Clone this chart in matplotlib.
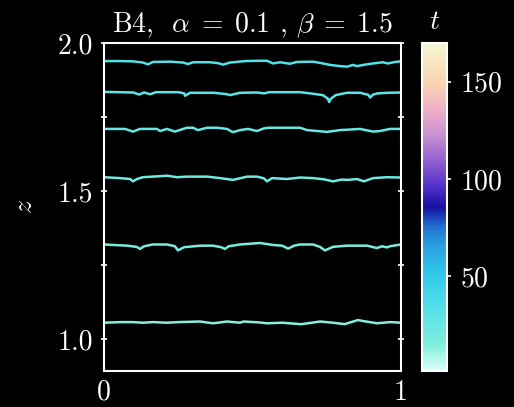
import numpy as np
import matplotlib
matplotlib.use("Agg")
import matplotlib.pyplot as plt
from matplotlib.colors import LinearSegmentedColormap, Normalize
from matplotlib.cm import ScalarMappable

plt.rcParams['font.family'] = 'serif'
plt.rcParams['font.serif'] = ['cmr10', 'DejaVu Serif']
plt.rcParams['mathtext.fontset'] = 'cm'
plt.rcParams['axes.formatter.use_mathtext'] = True
plt.rcParams['axes.unicode_minus'] = False

# ---- data ----
times = [34, 30, 26, 22, 18, 14]

x1 = [0, 0.054, 0.098, 0.131, 0.148, 0.165, 0.222, 0.266, 0.283, 0.300, 0.357, 0.384, 0.401, 0.424, 0.475,
      0.515, 0.549, 0.569, 0.593, 0.626, 0.650, 0.704, 0.737, 0.761, 0.795, 0.818, 0.838, 0.852, 0.879, 0.906,
      0.939, 0.956, 0.980, 1.0]
z1 = [1.939, 1.939, 1.938, 1.934, 1.928, 1.936, 1.937, 1.934, 1.929, 1.935, 1.935, 1.932, 1.927, 1.934, 1.939,
      1.940, 1.940, 1.931, 1.935, 1.930, 1.936, 1.937, 1.931, 1.926, 1.922, 1.920, 1.926, 1.922, 1.927, 1.931,
      1.935, 1.931, 1.936, 1.938]

x2 = [0, 0.098, 0.118, 0.135, 0.155, 0.175, 0.25, 0.27, 0.273, 0.29, 0.37, 0.415, 0.424, 0.458, 0.515, 0.539,
      0.556, 0.66, 0.694, 0.737, 0.754, 0.758, 0.764, 0.78, 0.818, 0.862, 0.89, 0.896, 0.906, 0.922, 0.956, 1.0]
z2 = [1.835, 1.833, 1.826, 1.833, 1.827, 1.834, 1.834, 1.830, 1.822, 1.832, 1.832, 1.827, 1.824, 1.832, 1.833,
      1.830, 1.834, 1.834, 1.830, 1.824, 1.812, 1.801, 1.812, 1.824, 1.832, 1.832, 1.825, 1.816, 1.826, 1.830,
      1.832, 1.833]

x3 = [0, 0.071, 0.098, 0.121, 0.178, 0.189, 0.212, 0.239, 0.279, 0.3, 0.316, 0.347, 0.381, 0.414, 0.434, 0.458,
      0.485, 0.515, 0.539, 0.556, 0.66, 0.684, 0.717, 0.75, 0.795, 0.862, 0.906, 0.93, 0.963, 1.0]
z3 = [1.710, 1.710, 1.701, 1.710, 1.710, 1.703, 1.710, 1.701, 1.714, 1.714, 1.706, 1.714, 1.714, 1.710, 1.699,
      1.706, 1.710, 1.703, 1.712, 1.714, 1.714, 1.706, 1.703, 1.700, 1.706, 1.710, 1.701, 1.703, 1.710, 1.710]

x4 = [0, 0.054, 0.088, 0.098, 0.111, 0.131, 0.212, 0.246, 0.279, 0.347, 0.391, 0.434, 0.482, 0.515, 0.539,
      0.549, 0.566, 0.616, 0.66, 0.704, 0.74, 0.771, 0.8, 0.822, 0.852, 0.875, 0.906, 0.953, 1.0]
z4 = [1.547, 1.544, 1.541, 1.533, 1.541, 1.547, 1.552, 1.547, 1.549, 1.549, 1.544, 1.538, 1.549, 1.549, 1.543,
      1.533, 1.544, 1.541, 1.546, 1.544, 1.540, 1.533, 1.539, 1.538, 1.541, 1.533, 1.544, 1.547, 1.546]

x5 = [0, 0.078, 0.11, 0.121, 0.135, 0.165, 0.212, 0.239, 0.249, 0.27, 0.283, 0.323, 0.367, 0.394, 0.407, 0.42,
      0.458, 0.525, 0.572, 0.6, 0.62, 0.64, 0.66, 0.704, 0.727, 0.744, 0.771, 0.818, 0.886, 0.902, 0.919, 0.936,
      0.953, 0.963, 1.0]
z5 = [1.320, 1.316, 1.312, 1.305, 1.314, 1.320, 1.320, 1.314, 1.300, 1.311, 1.312, 1.316, 1.316, 1.311, 1.305,
      1.314, 1.320, 1.325, 1.318, 1.316, 1.306, 1.316, 1.320, 1.320, 1.312, 1.300, 1.312, 1.316, 1.316, 1.312,
      1.308, 1.314, 1.310, 1.314, 1.320]

x6 = [0, 0.054, 0.098, 0.13, 0.165, 0.212, 0.25, 0.323, 0.367, 0.414, 0.458, 0.47, 0.522, 0.549, 0.6, 0.663,
      0.7, 0.727, 0.771, 0.81, 0.855, 0.87, 0.92, 0.963, 1.0]
z6 = [1.056, 1.058, 1.058, 1.056, 1.058, 1.056, 1.058, 1.060, 1.054, 1.060, 1.056, 1.060, 1.057, 1.054, 1.056,
      1.051, 1.056, 1.060, 1.056, 1.051, 1.065, 1.062, 1.054, 1.058, 1.056]

xs = [x1, x2, x3, x4, x5, x6]
zs = [z1, z2, z3, z4, z5, z6]

t_min, t_max = 1, 170
cbar_ticks = [50, 100, 150]
y_ticks = [1.0, 1.5, 2.0]
y_minor = [1.25, 1.75]
x_ticks = [0, 1]

# ---- colormap ----
cmap = LinearSegmentedColormap.from_list('tcmap', [
    (0.00, '#dcfff8'), (0.08, '#80eedc'), (0.20, '#50dfea'), (0.30, '#2ec6ea'),
    (0.38, '#2aa0e0'), (0.44, '#2070d0'), (0.50, '#1410a0'), (0.56, '#5030c8'),
    (0.63, '#8a58d0'), (0.72, '#c890d0'), (0.80, '#f0b0c8'), (0.88, '#fad4b0'),
    (1.00, '#f5f6d2')])
norm = Normalize(vmin=t_min, vmax=t_max)

fig = plt.figure(figsize=(5.14, 4.07), dpi=100, facecolor='black')
ax = fig.add_axes([104/514, 36/407, 297/514, 328/407], facecolor='black')

for x, z, t in zip(xs, zs, times):
    ax.plot(x, z, color=cmap(norm(t)), lw=1.8, solid_joinstyle='round')

ax.set_xlim(0, 1)
ax.set_ylim(0.893, 2.0)
ax.set_xticks(x_ticks)
ax.set_xticklabels(['0', '1'])
ax.set_yticks(y_ticks)
ax.set_yticks(y_minor, minor=True)
ax.set_yticklabels(['1.0', '1.5', '2.0'])

for s in ax.spines.values():
    s.set_color('white')
    s.set_linewidth(1.5)
ax.tick_params(axis='both', which='both', colors='white', labelcolor='white',
               direction='inout', length=4, width=1.2, labelsize=20,
               left=True, right=True, top=False, bottom=True)
ax.tick_params(axis='y', which='major', pad=6)
ax.tick_params(axis='x', which='major', pad=6, length=0)
ax.set_ylabel('$z$', color='white', fontsize=20, labelpad=14)
ax.set_title(r'B4,  $\alpha\;=\;0.1$ , $\beta\;=\;1.5$', color='white', fontsize=20, pad=8)

cax = fig.add_axes([422/514, 36/407, 25/514, 328/407])
sm = ScalarMappable(norm=norm, cmap=cmap)
cb = fig.colorbar(sm, cax=cax, ticks=cbar_ticks)
cb.outline.set_edgecolor('white')
cb.outline.set_linewidth(1.5)
cax.tick_params(colors='white', labelcolor='white', labelsize=20, length=3, width=1.2, pad=6)
cax.set_title('$t$', color='white', fontsize=20, pad=10)

fig.savefig('out.png', dpi=100, facecolor='black')
